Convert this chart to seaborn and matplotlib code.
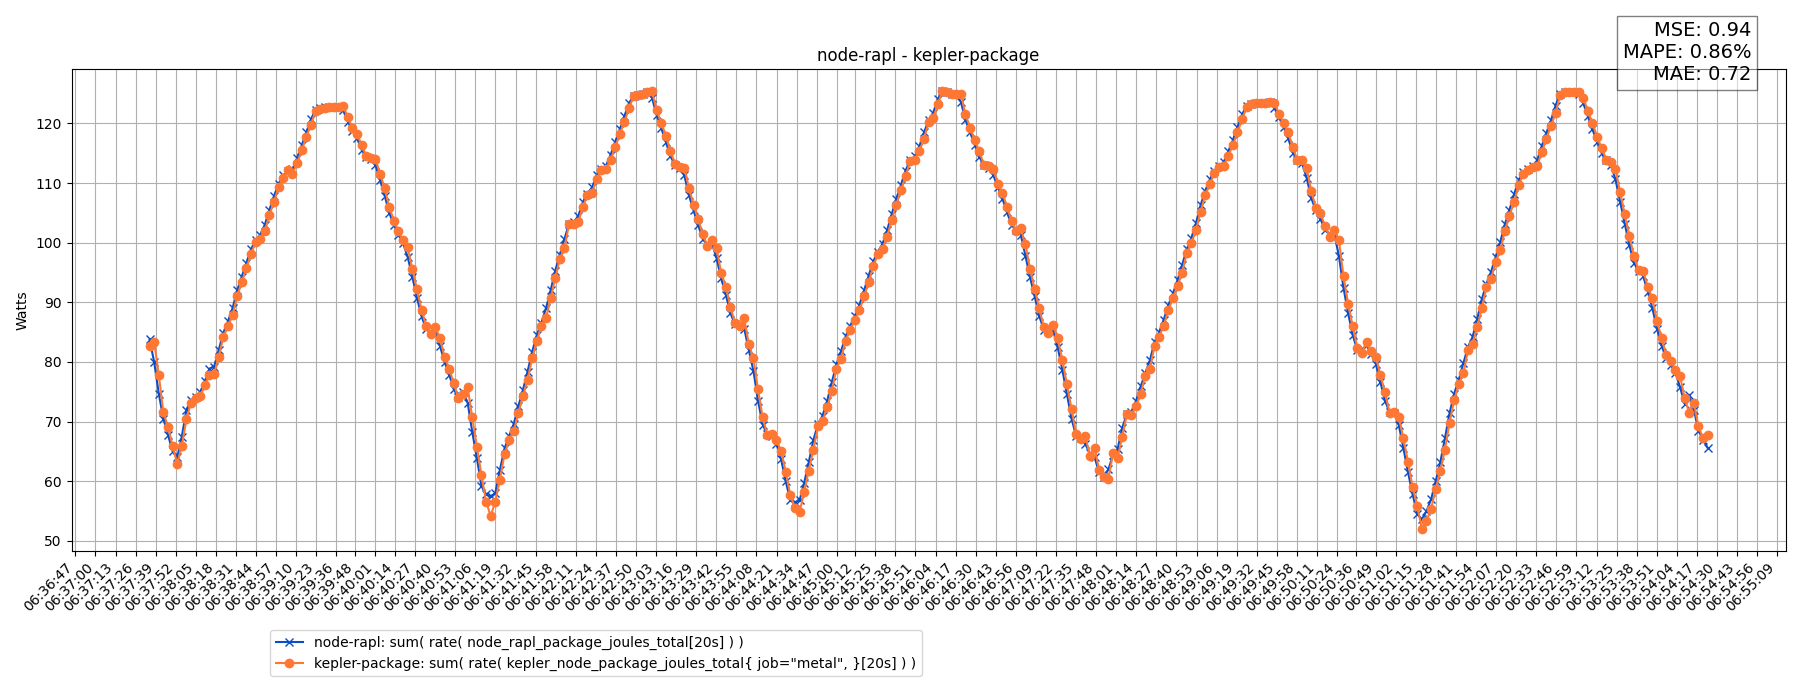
import numpy as np
import pandas as pd
import matplotlib
matplotlib.use("Agg")
import matplotlib.pyplot as plt
import seaborn as sns

TITLE = "node-rapl - kepler-package"
Y_LABEL = "Watts"
RAPL_LABEL = "node-rapl: sum( rate( node_rapl_package_joules_total[20s] ) )"
KEPLER_LABEL = 'kepler-package: sum( rate( kepler_node_package_joules_total{ job="metal", }[20s] ) )'
METRICS = ["MSE: 0.94", "MAPE: 0.86%", "MAE: 0.72"]

DAY = "2024-01-01"
FIRST_SAMPLE = "06:37:35"
LAST_SAMPLE = "06:54:24"

TICK_LABELS = [
    "06:36:47", "06:37:00", "06:37:13", "06:37:26", "06:37:39", "06:37:52", "06:38:05", "06:38:18",
    "06:38:31", "06:38:44", "06:38:57", "06:39:10", "06:39:23", "06:39:36", "06:39:48", "06:40:01",
    "06:40:14", "06:40:27", "06:40:40", "06:40:53", "06:41:06", "06:41:19", "06:41:32", "06:41:45",
    "06:41:58", "06:42:11", "06:42:24", "06:42:37", "06:42:50", "06:43:03", "06:43:16", "06:43:29",
    "06:43:42", "06:43:55", "06:44:08", "06:44:21", "06:44:34", "06:44:47", "06:45:00", "06:45:12",
    "06:45:25", "06:45:38", "06:45:51", "06:46:04", "06:46:17", "06:46:30", "06:46:43", "06:46:56",
    "06:47:09", "06:47:22", "06:47:35", "06:47:48", "06:48:01", "06:48:14", "06:48:27", "06:48:40",
    "06:48:53", "06:49:06", "06:49:19", "06:49:32", "06:49:45", "06:49:58", "06:50:11", "06:50:24",
    "06:50:36", "06:50:49", "06:51:02", "06:51:15", "06:51:28", "06:51:41", "06:51:54", "06:52:07",
    "06:52:20", "06:52:33", "06:52:46", "06:52:59", "06:53:12", "06:53:25", "06:53:38", "06:53:51",
    "06:54:04", "06:54:17", "06:54:30", "06:54:43", "06:54:56", "06:55:09",
]

NODE_RAPL = [
    83.8, 80.0, 74.7, 70.5, 67.8, 65.0, 64.0, 67.5, 72.0, 73.6,
    74.2, 75.0, 76.8, 78.9, 79.2, 82.0, 84.9, 86.8, 89.0, 92.0,
    94.3, 96.6, 98.9, 100.4, 101.3, 103.0, 105.5, 107.8, 109.9, 111.3,
    112.0, 112.3, 114.2, 116.3, 118.5, 120.7, 122.2, 122.5, 122.7, 122.8,
    122.8, 122.7, 122.2, 120.3, 118.8, 117.5, 115.6, 114.4, 114.1, 113.0,
    110.5, 107.9, 105.0, 103.0, 101.3, 99.9, 97.6, 94.3, 90.8, 87.7,
    85.5, 85.0, 85.1, 82.7, 80.0, 77.9, 75.4, 74.1, 75.0, 73.2,
    68.3, 63.9, 59.2, 57.8, 57.5, 58.0, 61.9, 65.5, 67.6, 69.6,
    72.6, 75.3, 78.4, 81.7, 84.5, 86.6, 89.0, 92.0, 95.3, 98.0,
    100.6, 103.2, 103.4, 104.5, 106.8, 108.2, 109.3, 111.3, 112.3, 112.9,
    114.7, 116.9, 119.0, 121.2, 123.4, 124.6, 124.8, 125.0, 125.3, 124.3,
    121.4, 119.2, 116.9, 114.5, 113.0, 112.6, 111.3, 108.0, 105.4, 103.0,
    100.6, 99.8, 99.9, 97.4, 94.0, 91.3, 88.2, 86.3, 86.5, 85.6,
    82.0, 78.5, 73.5, 69.5, 67.9, 67.6, 66.2, 63.7, 60.0, 56.8,
    56.5, 56.8, 59.7, 63.2, 66.9, 69.6, 71.0, 73.5, 76.6, 79.6,
    81.8, 84.3, 86.1, 87.7, 89.6, 92.0, 94.5, 96.9, 98.5, 99.8,
    102.1, 104.8, 107.4, 109.7, 112.1, 113.8, 114.5, 116.2, 118.5, 120.5,
    121.8, 124.1, 125.4, 125.2, 125.0, 125.0, 123.6, 120.6, 118.5, 116.4,
    114.4, 113.0, 112.6, 111.4, 109.3, 107.4, 105.1, 103.0, 102.2, 101.3,
    97.8, 94.2, 91.0, 87.7, 85.4, 85.4, 85.3, 82.5, 78.7, 74.6,
    70.5, 67.6, 67.3, 66.2, 64.7, 64.0, 61.5, 60.7, 62.0, 64.4,
    65.4, 69.0, 71.2, 71.7, 73.5, 75.9, 78.1, 80.3, 83.3, 85.0,
    87.1, 89.5, 91.5, 93.7, 96.3, 98.9, 100.8, 103.3, 106.3, 108.7,
    110.6, 112.1, 112.8, 113.5, 115.3, 117.2, 119.4, 121.5, 123.0, 123.3,
    123.4, 123.4, 123.5, 123.6, 122.6, 121.0, 119.4, 117.5, 115.1, 113.9,
    113.3, 110.9, 107.5, 105.4, 104.0, 102.1, 101.4, 101.4, 97.8, 92.4,
    88.2, 84.5, 82.0, 82.1, 82.8, 81.4, 79.7, 76.6, 73.5, 71.6,
    71.4, 69.4, 65.5, 61.5, 57.8, 54.5, 53.6, 55.0, 57.0, 60.0,
    63.2, 67.2, 71.4, 74.7, 77.0, 79.8, 82.5, 84.2, 87.2, 90.5,
    93.1, 95.1, 97.6, 100.1, 103.1, 105.5, 108.1, 110.5, 111.9, 112.4,
    112.8, 113.8, 116.2, 118.4, 120.5, 123.0, 125.0, 125.2, 125.3, 125.3,
    124.9, 123.4, 121.2, 119.0, 116.9, 115.0, 113.8, 113.0, 110.6, 106.9,
    103.2, 99.6, 96.6, 95.3, 94.4, 91.8, 89.0, 85.6, 82.7, 80.7,
    79.5, 78.2, 75.8, 73.0, 74.5, 72.0, 68.5, 67.0, 65.6,
]

KEPLER = [
    82.7, 83.4, 77.8, 71.6, 69.1, 66.0, 62.9, 65.9, 70.4, 73.2,
    74.0, 74.3, 76.1, 77.8, 78.0, 80.8, 84.2, 86.0, 87.8, 91.0,
    93.4, 95.7, 98.1, 100.1, 100.7, 102.0, 104.6, 106.9, 109.3, 110.8,
    112.2, 111.6, 113.3, 115.5, 117.7, 119.8, 122.0, 122.4, 122.6, 122.7,
    122.7, 122.7, 122.9, 121.1, 119.2, 118.3, 116.3, 114.6, 114.2, 114.0,
    111.6, 109.1, 106.0, 103.7, 101.9, 100.4, 99.2, 95.6, 92.2, 88.8,
    86.0, 84.7, 85.8, 84.0, 80.8, 78.9, 76.4, 73.9, 74.7, 75.8,
    70.7, 65.8, 61.0, 56.6, 54.2, 56.6, 60.3, 64.5, 66.9, 68.4,
    71.4, 74.3, 77.0, 80.6, 83.5, 86.1, 87.3, 90.7, 94.0, 97.3,
    99.1, 103.1, 103.2, 103.5, 106.0, 108.0, 108.4, 110.7, 112.2, 112.3,
    113.9, 116.0, 118.2, 120.3, 122.5, 124.6, 124.7, 124.9, 125.2, 125.4,
    122.2, 120.1, 117.9, 115.4, 113.2, 112.7, 112.6, 109.2, 106.4, 104.0,
    101.5, 99.4, 100.4, 99.1, 94.9, 92.6, 89.3, 86.5, 86.0, 87.3,
    83.0, 80.6, 75.4, 70.7, 67.8, 68.0, 66.9, 65.1, 61.6, 57.7,
    55.6, 54.8, 58.2, 61.8, 65.3, 69.2, 70.1, 72.4, 75.1, 78.9,
    80.5, 83.6, 85.4, 87.0, 88.7, 91.0, 93.4, 96.1, 98.1, 99.0,
    101.0, 103.8, 106.4, 108.8, 111.1, 113.7, 113.9, 115.4, 117.4, 120.2,
    120.9, 123.2, 125.4, 125.3, 125.0, 125.0, 125.0, 121.5, 119.3, 117.2,
    115.3, 113.1, 112.8, 112.4, 109.9, 108.4, 106.0, 103.7, 102.0, 102.4,
    99.7, 95.6, 92.3, 89.0, 85.8, 84.9, 86.2, 84.0, 80.4, 76.3,
    72.2, 68.0, 67.1, 67.6, 64.2, 65.5, 61.9, 60.8, 60.4, 64.7,
    63.9, 67.5, 71.2, 71.1, 72.6, 74.7, 77.7, 78.8, 82.7, 84.2,
    86.1, 88.7, 90.7, 92.8, 95.0, 98.2, 99.9, 102.1, 105.2, 108.0,
    109.8, 111.7, 112.7, 112.8, 114.6, 116.3, 118.5, 120.7, 122.8, 123.2,
    123.4, 123.4, 123.5, 123.6, 123.5, 121.6, 120.1, 118.5, 116.0, 113.9,
    113.9, 112.5, 108.7, 105.8, 104.9, 102.8, 101.0, 102.1, 100.4, 94.4,
    89.8, 86.0, 82.3, 81.5, 83.3, 81.8, 80.9, 77.8, 74.9, 71.5,
    71.7, 70.8, 67.2, 63.2, 59.0, 55.9, 52.0, 53.4, 55.4, 58.7,
    61.7, 65.3, 69.8, 73.6, 76.3, 78.1, 82.0, 83.1, 85.8, 89.0,
    92.5, 93.9, 96.8, 98.7, 102.0, 104.5, 106.9, 109.6, 111.6, 112.2,
    112.7, 112.8, 115.2, 117.4, 119.6, 121.7, 124.8, 125.2, 125.3, 125.3,
    125.3, 124.3, 122.1, 120.0, 117.8, 115.8, 113.9, 113.6, 112.3, 108.5,
    104.8, 101.2, 97.7, 95.4, 95.3, 92.6, 90.7, 86.9, 84.0, 81.2,
    80.2, 78.7, 77.7, 73.9, 71.5, 73.1, 69.2, 67.2, 67.8,
]

BLUE = "#0b4dc6"
ORANGE = "#ff7733"

n = min(len(NODE_RAPL), len(KEPLER))
times = pd.date_range(f"{DAY} {FIRST_SAMPLE}", f"{DAY} {LAST_SAMPLE}", periods=n)
df = pd.DataFrame({"time": times, "rapl": NODE_RAPL[:n], "kepler": KEPLER[:n]})

fig, ax = plt.subplots(figsize=(18, 7), dpi=100)
fig.subplots_adjust(left=0.0398, right=0.992, top=0.901, bottom=0.213)

sns.lineplot(data=df, x="time", y="rapl", ax=ax, color=BLUE, marker="x",
             mec=BLUE, mew=1.0, ms=6, lw=1.5, label=RAPL_LABEL)
sns.lineplot(data=df, x="time", y="kepler", ax=ax, color=ORANGE, marker="o",
             mec=ORANGE, mew=1.0, ms=6, lw=1.5, label=KEPLER_LABEL)

tick_times = pd.to_datetime([f"{DAY} {t}" for t in TICK_LABELS])
ax.set_xticks(tick_times)
ax.set_xticklabels(TICK_LABELS, rotation=45, ha="right")
ax.grid(True)
ax.set_xlabel("")
ax.set_ylabel(Y_LABEL)
ax.set_title(TITLE)

ax.legend(loc="upper left", bbox_to_anchor=(0.1157, -0.164), borderaxespad=0)

ax.text(0.98, 1.1, "\n".join(METRICS), transform=ax.transAxes, ha="right", va="top",
        fontsize=14, bbox=dict(facecolor="white", alpha=0.5))

fig.savefig("out.png", dpi=100)
